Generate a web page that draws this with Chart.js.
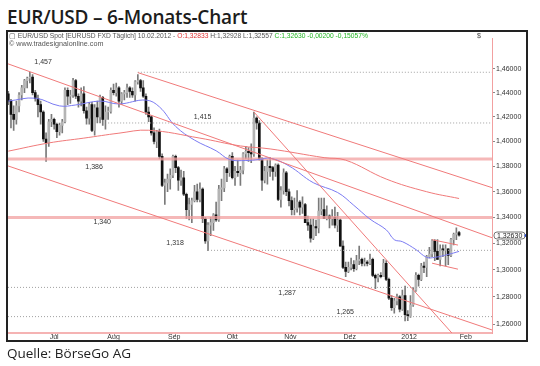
<!DOCTYPE html>
<html>
<head>
<meta charset="utf-8">
<script src="https://cdn.jsdelivr.net/npm/chart.js@4"></script>
<style>
  body { margin: 0; width: 540px; height: 366px; background: #fff; position: relative; overflow: hidden; font-family: Arial, "Liberation Sans", sans-serif; }
  #title { position: absolute; left: 7px; top: 4px; font: 600 19px "Open Sans"; color: #1c1c1c; letter-spacing: -0.2px; }
  #frame { position: absolute; left: 6px; top: 30px; width: 522px; height: 312px; box-sizing: border-box; border: 2px solid #222; }
  #chartBox { position: absolute; left: 8px; top: 33px; width: 518px; height: 307px; }
  #head1 { position: absolute; left: 9px; top: 32px; font-size: 6.7px; color: #555; white-space: nowrap; }
  #head2 { position: absolute; left: 9px; top: 39px; font-size: 7.2px; color: #555; white-space: nowrap; }
  #dollar { position: absolute; left: 477px; top: 32px; font-size: 7px; color: #444; }
  #source { position: absolute; left: 7px; top: 344px; font: 13.5px "Open Sans"; color: #222; }
  .red { color: #e03030; } .green { color: #22b422; }
</style>
</head>
<body>
<div id="title">EUR/USD – 6-Monats-Chart</div>
<div id="chartBox"><canvas id="chart" width="518" height="307"></canvas></div>
<div id="frame"></div>
<div id="head1">▢ EUR/USD Spot [EURUSD FXD Täglich] 10.02.2012 - <span class="red">O:1,32833</span> H:1,32928 L:1,32557 <span class="green">C:1,32630 -0,00200 -0,15057%</span></div>
<div id="head2">© www.tradesignalonline.com</div>
<div id="dollar">$</div>
<div id="source">Quelle: BörseGo AG</div>
<script>
// daily bars 22.06.2011 - 10.02.2012 (index = trading day)
const opens = [1.4390,1.4330,1.4220,1.4180,1.4290,1.4380,1.4440,1.4500,1.4520,1.4530,
  1.4400,1.4350,1.4300,1.4240,1.4020,1.3990,1.4160,1.4180,1.4140,1.4080,
  1.4130,1.4160,1.4420,1.4370,1.4380,1.4500,1.4370,1.4330,1.4390,1.4250,
  1.4190,1.4300,1.4090,1.4275,1.4200,1.4360,1.4180,1.4240,1.4245,1.4420,
  1.4400,1.4440,1.4330,1.4390,1.4400,1.4440,1.4410,1.4380,1.4490,1.4500,
  1.4440,1.4370,1.4240,1.4200,1.4070,1.4000,1.4080,1.3880,1.3650,1.3670,
  1.3700,1.3730,1.3880,1.3790,1.3690,1.3710,1.3580,1.3460,1.3500,1.3530,
  1.3600,1.3540,1.3620,1.3390,1.3220,1.3340,1.3360,1.3420,1.3380,1.3620,
  1.3630,1.3780,1.3750,1.3880,1.3710,1.3760,1.3750,1.3770,1.3900,1.3920,
  1.3910,1.3900,1.4190,1.4150,1.3860,1.3690,1.3760,1.3800,1.3790,1.3760,
  1.3810,1.3540,1.3610,1.3750,1.3600,1.3530,1.3460,1.3470,1.3520,1.3480,
  1.3500,1.3360,1.3340,1.3240,1.3330,1.3320,1.3450,1.3460,1.3390,1.3410,
  1.3390,1.3400,1.3340,1.3380,1.3180,1.3020,1.2990,1.3020,1.3040,1.3010,
  1.3070,1.3080,1.3050,1.3060,1.3050,1.3080,1.2960,1.2940,1.2960,1.2950,
  1.3050,1.2930,1.2790,1.2720,1.2770,1.2800,1.2710,1.2810,1.2670,1.2660,
  1.2740,1.2850,1.2960,1.2930,1.3030,1.3020,1.3100,1.3120,1.3220,1.3140,
  1.3080,1.3160,1.3150,1.3160,1.3110,1.3230,1.3270,1.32833];
const highs = [1.4410,1.4345,1.4290,1.4330,1.4400,1.4460,1.4510,1.4530,1.4570,1.4550,
  1.4420,1.4380,1.4330,1.4250,1.4070,1.4180,1.4220,1.4190,1.4150,1.4150,
  1.4180,1.4440,1.4440,1.4420,1.4520,1.4510,1.4390,1.4440,1.4450,1.4280,
  1.4320,1.4320,1.4300,1.4330,1.4380,1.4370,1.4290,1.4280,1.4440,1.4470,
  1.4480,1.4450,1.4400,1.4420,1.4470,1.4450,1.4440,1.4500,1.4550,1.4510,
  1.4500,1.4390,1.4280,1.4210,1.4110,1.4090,1.4100,1.3900,1.3700,1.3740,
  1.3780,1.3890,1.3890,1.3800,1.3770,1.3760,1.3590,1.3550,1.3550,1.3650,
  1.3660,1.3670,1.3630,1.3400,1.3360,1.3400,1.3430,1.3520,1.3650,1.3700,
  1.3800,1.3790,1.3890,1.3910,1.3800,1.3850,1.3800,1.3910,1.3960,1.3950,
  1.3980,1.4240,1.4200,1.4170,1.3870,1.3800,1.3850,1.3870,1.3800,1.3820,
  1.3820,1.3640,1.3780,1.3760,1.3620,1.3560,1.3550,1.3610,1.3530,1.3560,
  1.3510,1.3410,1.3390,1.3390,1.3380,1.3550,1.3550,1.3550,1.3490,1.3420,
  1.3460,1.3480,1.3440,1.3390,1.3220,1.3060,1.3060,1.3090,1.3070,1.3110,
  1.3180,1.3090,1.3090,1.3070,1.3120,1.3090,1.2970,1.2970,1.2980,1.3080,
  1.3070,1.2940,1.2810,1.2790,1.2820,1.2810,1.2850,1.2880,1.2700,1.2810,
  1.2870,1.2980,1.2970,1.3050,1.3060,1.3110,1.3170,1.3230,1.3230,1.3230,
  1.3190,1.3190,1.3190,1.3160,1.3240,1.3280,1.3320,1.32928];
const lows = [1.4300,1.4110,1.4090,1.4140,1.4240,1.4340,1.4400,1.4440,1.4480,1.4380,
  1.4330,1.4200,1.4140,1.4000,1.3840,1.3960,1.4120,1.4100,1.4030,1.4050,
  1.4070,1.4150,1.4300,1.4310,1.4360,1.4350,1.4280,1.4290,1.4230,1.4140,
  1.4140,1.4080,1.4050,1.4150,1.4150,1.4130,1.4100,1.4180,1.4230,1.4380,
  1.4370,1.4280,1.4300,1.4340,1.4360,1.4360,1.4360,1.4330,1.4470,1.4410,
  1.4360,1.4220,1.4160,1.4050,1.3980,1.3950,1.3860,1.3640,1.3500,1.3600,
  1.3620,1.3710,1.3750,1.3610,1.3650,1.3570,1.3390,1.3380,1.3360,1.3520,
  1.3520,1.3520,1.3360,1.3200,1.3145,1.3260,1.3300,1.3370,1.3370,1.3530,
  1.3600,1.3680,1.3720,1.3700,1.3650,1.3720,1.3650,1.3740,1.3860,1.3840,
  1.3830,1.3880,1.4100,1.3850,1.3610,1.3670,1.3660,1.3720,1.3690,1.3720,
  1.3530,1.3480,1.3580,1.3570,1.3490,1.3420,1.3420,1.3440,1.3420,1.3430,
  1.3360,1.3300,1.3210,1.3230,1.3260,1.3280,1.3420,1.3390,1.3380,1.3320,
  1.3340,1.3320,1.3290,1.3180,1.3010,1.2950,1.2980,1.3000,1.2990,1.3000,
  1.3040,1.3030,1.3030,1.3030,1.3040,1.2950,1.2860,1.2910,1.2940,1.2950,
  1.2920,1.2780,1.2700,1.2680,1.2740,1.2690,1.2700,1.2624,1.2625,1.2650,
  1.2730,1.2840,1.2880,1.2920,1.2980,1.2950,1.3090,1.3100,1.3070,1.3080,
  1.3030,1.3100,1.3030,1.3040,1.3100,1.3190,1.3230,1.32557];
const closes = [1.4330,1.4220,1.4180,1.4290,1.4380,1.4440,1.4500,1.4520,1.4530,1.4400,
  1.4350,1.4300,1.4240,1.4020,1.3990,1.4160,1.4180,1.4140,1.4080,1.4130,
  1.4160,1.4420,1.4370,1.4380,1.4500,1.4370,1.4330,1.4390,1.4250,1.4190,
  1.4300,1.4090,1.4275,1.4200,1.4360,1.4180,1.4240,1.4245,1.4420,1.4400,
  1.4440,1.4330,1.4390,1.4400,1.4440,1.4410,1.4380,1.4490,1.4500,1.4440,
  1.4370,1.4240,1.4200,1.4070,1.4000,1.4080,1.3880,1.3650,1.3670,1.3700,
  1.3730,1.3880,1.3790,1.3690,1.3710,1.3580,1.3460,1.3500,1.3530,1.3600,
  1.3540,1.3620,1.3390,1.3220,1.3340,1.3360,1.3420,1.3380,1.3620,1.3630,
  1.3780,1.3750,1.3880,1.3710,1.3760,1.3750,1.3770,1.3900,1.3920,1.3910,
  1.3900,1.4190,1.4150,1.3860,1.3690,1.3760,1.3800,1.3790,1.3760,1.3810,
  1.3540,1.3610,1.3750,1.3600,1.3530,1.3460,1.3470,1.3520,1.3480,1.3500,
  1.3360,1.3340,1.3240,1.3330,1.3320,1.3450,1.3460,1.3390,1.3410,1.3390,
  1.3400,1.3340,1.3380,1.3180,1.3020,1.2990,1.3020,1.3040,1.3010,1.3070,
  1.3080,1.3050,1.3060,1.3050,1.3080,1.2960,1.2940,1.2960,1.2950,1.3050,
  1.2930,1.2790,1.2720,1.2770,1.2800,1.2710,1.2810,1.2670,1.2660,1.2740,
  1.2850,1.2960,1.2930,1.3030,1.3020,1.3100,1.3120,1.3220,1.3140,1.3080,
  1.3160,1.3150,1.3160,1.3110,1.3230,1.3270,1.3280,1.3263];

// moving averages (trading-day index, price)
const maBlueIdx = [0, 10, 19, 25, 34, 41, 51, 56, 62, 69, 77, 82, 88, 93, 97, 104, 113, 122, 128, 134, 140, 143, 146, 151, 155, 158, 163, 167];
const maBlueVal = [1.4330,1.4354,1.4290,1.4298,1.4330,1.4306,1.4338,1.4282,1.4122,1.4011,1.3925,1.3855,1.3847,1.3855,1.3866,1.3804,1.3671,1.3594,1.3494,1.3387,1.3305,1.3229,1.3214,1.3154,1.3095,1.3095,1.3117,1.3140];
const maRedIdx = [0, 15, 28, 41, 52, 71, 86, 97, 117, 125, 140, 155, 167];
const maRedVal = [1.3922,1.3988,1.4027,1.4067,1.4091,1.4027,1.3964,1.3940,1.3870,1.3850,1.3700,1.3600,1.3547];

// trend lines: [startIdx, startPrice, endIdx, endPrice]
const trendLines = [
  [-0.1, 1.4641, 179.2, 1.3244],
  [48, 1.4567, 179.2, 1.3632],
  [-0.1, 1.3804, 179.2, 1.2558],
  [91, 1.4240, 166, 1.2500],
  [157, 1.3229, 166.6, 1.3188],
  [157, 1.3051, 166.6, 1.3006]
];

// horizontal levels
const levelPrices = [1.457, 1.415, 1.386, 1.340, 1.3148, 1.287, 1.2655];
const levelFrom   = [48, 37, -0.1, -0.1, 74, -0.1, -0.1];
const levelTexts  = ['1,457', '1,415', '1,386', '1,340', '1,318', '1,287', '1,265'];
const levelBand   = [false, false, true, true, false, false, false];

const yTicks = [1.26, 1.28, 1.30, 1.32, 1.34, 1.36, 1.38, 1.40, 1.42, 1.44, 1.46];
const monthStarts = [7, 28, 51, 73, 94, 116, 138, 160];
const monthMids = [17, 39, 61.5, 83, 104.5, 126.5, 148.5, 169.5];
const monthNames = ['Jul', 'Aug', 'Sep', 'Okt', 'Nov', 'Dez', '2012', 'Feb'];

const X_MIN = -0.1, X_MAX = 179.2;
const Y_MIN = 1.2536, Y_MAX = 1.4859;
const lineRed = '#f07a7a';

// where the level texts sit: index along x, pixel shift from the line
const noteAt = [[12.9, -10], [72, -6], [31.8, 8], [34.8, 5], [61.8, -7], [103.3, 6], [124.8, -5]];

const wickData = highs.map((h, i) => ({ x: i, y: [lows[i], h] }));
const bodyData = opens.map((o, i) => ({ x: i, y: [o, closes[i]] }));

const datasets = [];
datasets.push({
  type: 'bar', data: wickData, barThickness: 1, grouped: false, order: 5,
  backgroundColor: '#7a7a7a'
});
datasets.push({
  type: 'bar', data: bodyData, barThickness: 2, grouped: false, order: 4, minBarLength: 1,
  backgroundColor: ctx => (closes[ctx.dataIndex] >= opens[ctx.dataIndex] ? '#b4b4b4' : '#111')
});

levelPrices.forEach((p, i) => {
  datasets.push({
    type: 'line', order: levelBand[i] ? 3 : 2,
    data: [{ x: levelFrom[i], y: p }, { x: X_MAX, y: p }],
    borderColor: levelBand[i] ? 'rgba(242,160,160,0.75)' : '#a0a0a0',
    borderWidth: levelBand[i] ? 3 : 1,
    borderDash: levelBand[i] ? [] : [1, 2],
    pointRadius: 0
  });
});

trendLines.forEach(t => {
  datasets.push({
    type: 'line', order: 1,
    data: [{ x: t[0], y: t[1] }, { x: t[2], y: t[3] }],
    borderColor: lineRed, borderWidth: 1, pointRadius: 0
  });
});

datasets.push({
  type: 'line', order: 1, data: maRedIdx.map((x, i) => ({ x, y: maRedVal[i] })),
  borderColor: lineRed, borderWidth: 1, pointRadius: 0, tension: 0.4
});
datasets.push({
  type: 'line', order: 1, data: maBlueIdx.map((x, i) => ({ x, y: maBlueVal[i] })),
  borderColor: '#7b7bf2', borderWidth: 1, pointRadius: 0, tension: 0.4
});

const notesPlugin = {
  id: 'notes',
  afterDraw(chart) {
    const { ctx, scales: { x, y } } = chart;
    ctx.save();
    ctx.font = '7px Arial';
    ctx.fillStyle = '#333';
    ctx.textAlign = 'center';
    ctx.textBaseline = 'middle';
    levelTexts.forEach((t, i) => {
      ctx.fillText(t, x.getPixelForValue(noteAt[i][0]), y.getPixelForValue(levelPrices[i]) + noteAt[i][1]);
    });
    // last price box on the axis
    const last = closes[closes.length - 1];
    const py = Math.round(y.getPixelForValue(last)) + 0.5;
    const bx = x.right + 2;
    ctx.fillStyle = '#fff';
    ctx.strokeStyle = '#777';
    ctx.beginPath();
    ctx.roundRect(bx, py - 3.5, 31, 7, 3);
    ctx.fill();
    ctx.stroke();
    ctx.fillStyle = '#222';
    ctx.textAlign = 'left';
    ctx.fillText(last.toFixed(5).replace('.', ','), bx + 3, py + 0.5);
    ctx.fillStyle = '#2a4bd0';
    ctx.beginPath();
    ctx.arc(bx + 32, py, 1.5, 0, Math.PI * 2);
    ctx.fill();
    ctx.restore();
  }
};

new Chart(document.getElementById('chart'), {
  type: 'bar',
  data: { datasets },
  options: {
    responsive: false,
    animation: false,
    devicePixelRatio: 1,
    layout: { padding: 0 },
    plugins: { legend: { display: false }, tooltip: { enabled: false } },
    scales: {
      x: {
        type: 'linear', min: X_MIN, max: X_MAX, offset: false,
        afterFit(s) { s.height = 7; },
        afterBuildTicks(s) {
          s.ticks = monthStarts.concat(monthMids).map(v => ({ value: v }));
        },
        ticks: {
          autoSkip: false, maxRotation: 0, padding: -3, color: '#333',
          font: { size: 7, family: 'Arial' },
          callback: v => { const k = monthMids.indexOf(v); return k >= 0 ? monthNames[k] : ''; }
        },
        grid: {
          drawOnChartArea: false, tickLength: 3,
          tickColor: c => (c.tick && monthStarts.includes(c.tick.value) ? '#999' : 'rgba(0,0,0,0)')
        },
        border: { color: 'rgba(242,160,160,0.8)', width: 2 }
      },
      y: {
        type: 'logarithmic', position: 'right', min: Y_MIN, max: Y_MAX, bounds: 'data',
        afterFit(s) { s.width = 34; },
        afterBuildTicks(s) { s.ticks = yTicks.map(v => ({ value: v })); },
        ticks: {
          autoSkip: false, padding: 1, color: '#333',
          font: { size: 7, family: 'Arial' },
          callback: v => Number(v).toFixed(5).replace('.', ',')
        },
        grid: { drawOnChartArea: false, tickLength: 3, tickColor: '#888' },
        border: { color: '#f2a0a0', width: 1 }
      }
    }
  },
  plugins: [notesPlugin]
});
</script>
</body>
</html>
